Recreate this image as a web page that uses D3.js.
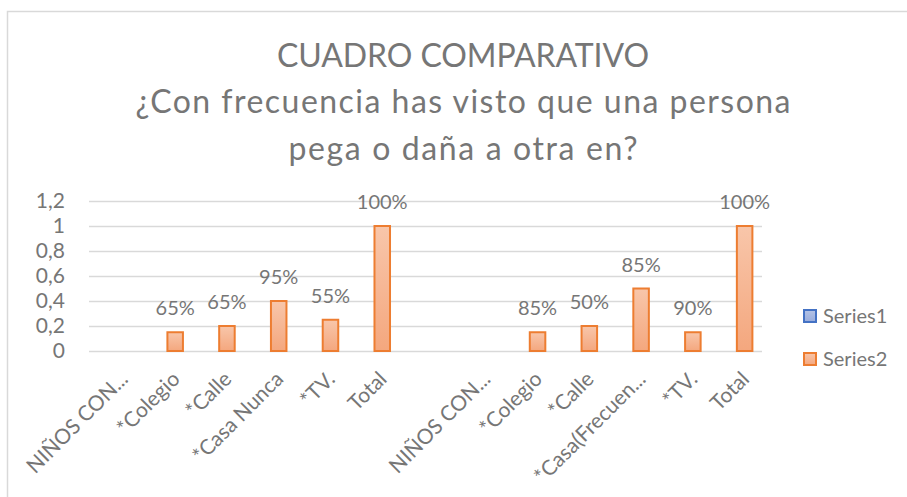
<!DOCTYPE html>
<html>
<head>
<meta charset="utf-8">
<script src="https://cdn.jsdelivr.net/npm/d3@7"></script>
<style>
  html, body { margin: 0; padding: 0; background: #fff; }
  svg { display: block; font-family: Lato, "Noto Sans", sans-serif; }
</style>
</head>
<body>
<div class="chart-wrapper"></div>
<script>
// chart data
const categories = ['NIÑOS CON...', '*Colegio', '*Calle', '*Casa Nunca', '*TV.', 'Total', '',
  'NIÑOS CON...', '*Colegio', '*Calle', '*Casa(Frecuen...', '*TV.', 'Total']
const series1 = [null, null, null, null, null, null, null, null, null, null, null, null, null]
const series2 = [null, 0.15, 0.2, 0.4, 0.25, 1, null, null, 0.15, 0.2, 0.5, 0.15, 1]
const labels2 = ['', '65%', '65%', '95%', '55%', '100%', '', '', '85%', '50%', '85%', '90%', '100%']
const yTicks = [0, 0.2, 0.4, 0.6, 0.8, 1, 1.2]
const seriesNames = ['Series1', 'Series2']
const titleLines = ['CUADRO COMPARATIVO', '¿Con frecuencia has visto que una persona', 'pega o daña a otra en?']

const width = 907, height = 497
const textColor = '#767676'
const gridColor = '#d9d9d9'
// title line widths as seen in the picture (the original font is narrower on caps)
const titleWidths = [372, 655, 349]

const locale = d3.formatLocale({decimal: ',', thousands: '.', grouping: [3], currency: ['', '€']})
const fmt = locale.format('.1~f')

const svg = d3.select('.chart-wrapper')
  .append('svg')
  .attr('width', width)
  .attr('height', height)

const defs = svg.append('defs')
const grads = [
  {id: 'g-s1', top: '#b4c3e6', bottom: '#98acdc'},
  {id: 'g-s2', top: '#f8c6aa', bottom: '#f4a77e'}
]
grads.forEach(g => {
  const lg = defs.append('linearGradient').attr('id', g.id)
    .attr('x1', 0).attr('y1', 0).attr('x2', 0).attr('y2', 1)
  lg.append('stop').attr('offset', '0%').attr('stop-color', g.top)
  lg.append('stop').attr('offset', '100%').attr('stop-color', g.bottom)
})
const strokes = {Series1: '#4472c4', Series2: '#ed7d31'}
const fills = {Series1: 'url(#g-s1)', Series2: 'url(#g-s2)'}

// chart border (runs off the right/bottom of the frame)
svg.append('rect')
  .attr('x', 7.5).attr('y', 11.5)
  .attr('width', 930).attr('height', 520)
  .attr('fill', 'none')
  .attr('stroke', gridColor)
  .attr('stroke-width', 1.5)

// title
svg.append('g')
  .selectAll('text')
  .data(titleLines)
  .enter()
  .append('text')
  .attr('x', 463)
  .attr('y', (d, i) => 66.5 + i * 46.6)
  .attr('text-anchor', 'middle')
  .attr('textLength', (d, i) => titleWidths[i])
  .attr('lengthAdjust', 'spacing')
  .style('font-size', '32px')
  .style('fill', textColor)
  .text(d => d)

const plot = {left: 89, right: 762, top: 201, bottom: 351}

const x = d3.scaleBand()
  .domain(d3.range(categories.length))
  .range([plot.left, plot.right])

const xs = d3.scaleBand()
  .domain(seriesNames)
  .range([0, x.bandwidth()])
  .paddingOuter(0.52)

const y = d3.scaleLinear()
  .domain([0, 1.2])
  .range([plot.bottom, plot.top])

// gridlines + y labels
const yAxis = svg.append('g')
  .attr('transform', `translate(${plot.left},0)`)
  .call(d3.axisLeft(y)
    .tickValues(yTicks)
    .tickFormat(fmt)
    .tickSize(-(plot.right - plot.left))
    .tickPadding(24))

yAxis.select('.domain').remove()
yAxis.selectAll('.tick line')
  .attr('stroke', gridColor)
  .attr('stroke-width', 1.5)
yAxis.selectAll('.tick text')
  .style('font-size', '21px')
  .style('font-family', 'Lato, "Noto Sans", sans-serif')
  .attr('fill', textColor)

// bars
const seriesData = [
  {name: 'Series1', values: series1},
  {name: 'Series2', values: series2}
]

seriesData.forEach(s => {
  svg.append('g')
    .selectAll('rect')
    .data(s.values.map((v, i) => ({i, v})).filter(d => d.v != null))
    .enter()
    .append('rect')
    .attr('x', d => x(d.i) + xs(s.name) + 0.75)
    .attr('y', d => y(d.v))
    .attr('width', xs.bandwidth() - 1.5)
    .attr('height', d => y(0) - y(d.v))
    .attr('fill', fills[s.name])
    .attr('stroke', strokes[s.name])
    .attr('stroke-width', 2)
})

// data labels
svg.append('g')
  .selectAll('text')
  .data(series2.map((v, i) => ({i, v, t: labels2[i]})).filter(d => d.v != null && d.t))
  .enter()
  .append('text')
  .attr('x', d => x(d.i) + xs('Series2') + xs.bandwidth() / 2)
  .attr('y', d => y(d.v) - 17)
  .attr('text-anchor', 'middle')
  .style('font-size', '20px')
  .style('fill', textColor)
  .text(d => d.t)

// category labels, rotated
svg.append('g')
  .selectAll('text')
  .data(categories.map((c, i) => ({i, c})).filter(d => d.c))
  .enter()
  .append('text')
  .attr('transform', d => `translate(${x(d.i) + x.bandwidth() / 2 + 4},${plot.bottom + 19}) rotate(-45)`)
  .attr('text-anchor', 'end')
  .attr('dy', '0.7em')
  .style('font-size', '21px')
  .style('fill', textColor)
  .text(d => d.c)

// legend
const legend = svg.append('g')
  .selectAll('g')
  .data(seriesNames)
  .enter()
  .append('g')
  .attr('transform', (d, i) => `translate(803,${316 + i * 43})`)

legend.append('rect')
  .attr('x', 1).attr('y', -6)
  .attr('width', 12).attr('height', 12)
  .attr('fill', d => fills[d])
  .attr('stroke', d => strokes[d])
  .attr('stroke-width', 2)

legend.append('text')
  .attr('x', 20)
  .attr('dy', '0.36em')
  .style('font-size', '20px')
  .style('fill', textColor)
  .text(d => d)
</script>
</body>
</html>
